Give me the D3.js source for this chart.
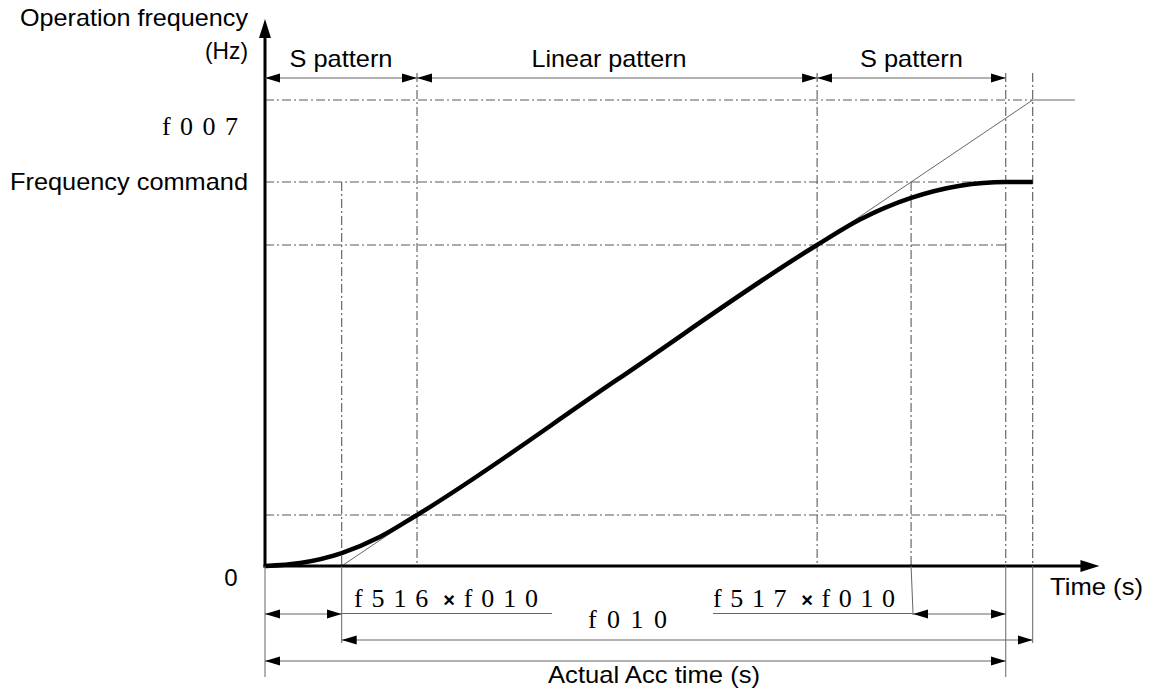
<!DOCTYPE html>
<html><head><meta charset="utf-8">
<script src="https://cdn.jsdelivr.net/npm/d3@7"></script>
<style>body{margin:0;background:#fff}</style>
</head><body><svg id="c" width="1152" height="696"></svg>
<script>
// ---- data (time in s, frequency in Hz) ----
const curveTime = [0, 0.51, 1.11, 1.66, 2.20, 5.09, 7.99, 8.61, 9.35, 10.06, 10.72, 11.11];
const curveFreq = [0, 0.39, 1.67, 3.73, 6.57, 23.95, 41.33, 44.60, 47.39, 48.96, 49.44, 49.44];
const linearTime = [1.11, 11.11, 11.72];
const linearFreq = [0, 60, 60];
const keyTimes = [1.11, 2.20, 7.99, 9.35, 10.72, 11.11]; // lin0, s1End, s2Start, cmdHit, accEnd, f007Hit
const keyFreqs = [6.57, 41.33, 49.44, 60];                 // s1End, s2Start, command, f007
const axisMax = [12.09, 70.55];                            // x, y arrow tips
const sectionLabels = ["S pattern", "Linear pattern", "S pattern"];
const sectionBounds = [0, 2.20, 7.99, 10.72];
const yLabels = ["f007", "Frequency command"];
const bottomLabels = ["f516", "f517", "f010", "Actual Acc time (s)"];

const svg = d3.select("#c");
const x = d3.scaleLinear().domain([0, 10]).range([265, 956]);
const y = d3.scaleLinear().domain([0, 60]).range([566, 100]);
const [tLin0, tS1, tS2, tCmd, tEnd, tF7] = keyTimes;
const [fS1, fS2, fCmd, f7] = keyFreqs;

const SANS = "'Liberation Sans', Arial, sans-serif";
const SERIF = "'Liberation Serif', 'Times New Roman', serif";
const GRAY = "#5a5a5a";

// markers
const defs = svg.append("defs");
defs.append("marker").attr("id", "ah").attr("viewBox", "0 -5 16 10")
  .attr("refX", 15).attr("refY", 0).attr("markerWidth", 16).attr("markerHeight", 10)
  .attr("markerUnits", "userSpaceOnUse").attr("orient", "auto-start-reverse")
  .append("path").attr("d", "M0,-4.5L15,0L0,4.5Z").attr("fill", "#000");
defs.append("marker").attr("id", "axh").attr("viewBox", "0 -7 20 14")
  .attr("refX", 1).attr("refY", 0).attr("markerWidth", 20).attr("markerHeight", 14)
  .attr("markerUnits", "userSpaceOnUse").attr("orient", "auto")
  .append("path").attr("d", "M0,-6L19,0L0,6Z").attr("fill", "#000");

const dashDot = "9,3,2,3";
function ddLine(x1, y1, x2, y2) {
  svg.append("line").attr("x1", x1).attr("y1", y1).attr("x2", x2).attr("y2", y2)
    .attr("stroke", GRAY).attr("stroke-width", 1.1).attr("stroke-dasharray", dashDot);
}
// horizontal dash-dot guides
ddLine(x(0), y(f7), x(tF7), y(f7));
[fCmd, fS2, fS1].forEach(f => ddLine(x(0), y(f), x(tEnd), y(f)));
// vertical dash-dot guides
const TOP = 73;
ddLine(x(tLin0), y(fCmd), x(tLin0), y(0));
ddLine(x(tCmd), y(fCmd), x(tCmd), y(0));
[tS1, tS2, tEnd, tF7].forEach(t => ddLine(x(t), TOP, x(t), y(0)));

// thin linear reference line
svg.append("path")
  .attr("d", d3.line().x((d, i) => x(linearTime[i])).y(d => y(d))(linearFreq))
  .attr("fill", "none").attr("stroke", "#666").attr("stroke-width", 1);

// thick S-curve
svg.append("path")
  .attr("d", d3.line().x((d, i) => x(curveTime[i])).y(d => y(d)).curve(d3.curveMonotoneX)(curveFreq))
  .attr("fill", "none").attr("stroke", "#000").attr("stroke-width", 4.5).attr("stroke-linecap", "butt");

// axes
svg.append("line").attr("x1", x(0)).attr("y1", y(0) + 1.5).attr("x2", x(0)).attr("y2", y(axisMax[1]) + 19)
  .attr("stroke", "#000").attr("stroke-width", 3).attr("marker-end", "url(#axh)");
svg.append("line").attr("x1", x(0) - 1.5).attr("y1", y(0)).attr("x2", x(axisMax[0]) - 19).attr("y2", y(0))
  .attr("stroke", "#000").attr("stroke-width", 3).attr("marker-end", "url(#axh)");

// extension lines below axis
function solid(x1, y1, x2, y2, col) {
  svg.append("line").attr("x1", x1).attr("y1", y1).attr("x2", x2).attr("y2", y2)
    .attr("stroke", col || "#666").attr("stroke-width", 1);
}
solid(x(0), y(0), x(0), 677);
solid(x(tLin0), y(0), x(tLin0), 643);
solid(x(tCmd), y(0), x(tCmd) + 2, 615);
solid(x(tEnd), y(0), x(tEnd), 677);
solid(x(tF7), y(0), x(tF7), 643);

// dimension arrows
function dim(t1, t2, yy, startHead, endHead) {
  const l = svg.append("line").attr("x1", x(t1)).attr("y1", yy).attr("x2", x(t2)).attr("y2", yy)
    .attr("stroke", "#666").attr("stroke-width", 1.2);
  if (startHead) l.attr("marker-start", "url(#ah)");
  if (endHead) l.attr("marker-end", "url(#ah)");
}
// top section arrows
for (let i = 0; i < 3; i++) dim(sectionBounds[i], sectionBounds[i + 1], 78, true, true);
// bottom rows
dim(0, tLin0, 614, true, true);
solid(x(tLin0), 613.5, 552, 613.5);
solid(713, 613.5, x(tCmd) + 2, 613.5);
dim(tCmd + 0.03, tEnd, 614, true, true);
dim(tLin0, tF7, 640, true, true);
dim(0, tEnd, 661, true, true);

// texts
function txt(s, xx, yy, opts) {
  const t = svg.append("text").attr("x", xx).attr("y", yy).text(s)
    .attr("font-family", opts.font || SANS).attr("font-size", opts.size || 24).attr("fill", "#000")
    .attr("text-anchor", opts.anchor || "start");
  if (opts.len) t.attr("textLength", opts.len).attr("lengthAdjust", opts.adj || "spacingAndGlyphs");
  return t;
}
txt("Operation frequency", 20, 26, {len: 228});
txt("(Hz)", 248, 59, {anchor: "end", len: 43});
sectionLabels.forEach((s, i) => {
  const cx = i === 1 ? 609 : (x(sectionBounds[i]) + x(sectionBounds[i + 1])) / 2;
  txt(s, cx - (i === 1 ? 77.5 : 51.5), 67, {len: i === 1 ? 155 : 103});
});
txt(yLabels[0], 162, 135, {font: SERIF, size: 26, len: 76, adj: "spacing"});
txt(yLabels[1], 10, 190, {len: 238});
txt("0", 231, 586, {anchor: "middle"});
txt("Time (s)", 1050, 595, {len: 93});

function fx(label, xx, yy, len) {
  const t = svg.append("text").attr("x", xx).attr("y", yy)
    .attr("font-family", SERIF).attr("font-size", 26).attr("fill", "#000")
    .attr("textLength", len).attr("lengthAdjust", "spacing");
  t.append("tspan").text(label);
  t.append("tspan").text("×").attr("font-family", SANS).attr("font-weight", "bold").attr("font-size", 20).attr("dx", 6);
  t.append("tspan").text("f010");
}
fx(bottomLabels[0], 354, 607, 184);
fx(bottomLabels[1], 713, 607, 182);
txt(bottomLabels[2], 588, 628, {font: SERIF, size: 26, len: 79, adj: "spacing"});
txt(bottomLabels[3], 548, 683, {len: 212});
</script></body></html>
